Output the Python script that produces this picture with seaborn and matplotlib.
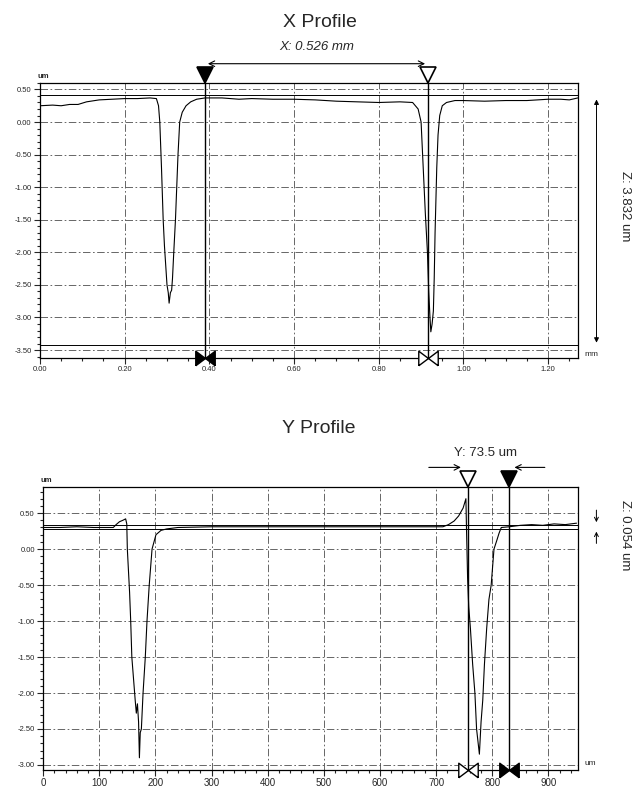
import numpy as np
import pandas as pd
import matplotlib.pyplot as plt
import seaborn as sns
from matplotlib.ticker import MultipleLocator, FormatStrFormatter

# X profile (position in mm, height in um)
x_pos = [0.00, 0.03, 0.05, 0.07, 0.09, 0.11, 0.14, 0.17, 0.20, 0.23, 0.26, 0.275,
         0.280, 0.283, 0.287, 0.291, 0.294, 0.297, 0.300, 0.303, 0.305, 0.308, 0.311,
         0.313, 0.316, 0.320, 0.323, 0.326, 0.330, 0.336, 0.345, 0.356, 0.37, 0.39,
         0.43, 0.47, 0.50, 0.55, 0.60, 0.65, 0.70, 0.75, 0.80, 0.85, 0.88, 0.893,
         0.900, 0.905, 0.910, 0.915, 0.918, 0.921, 0.923, 0.926, 0.929, 0.931, 0.933,
         0.935, 0.937, 0.940, 0.944, 0.950, 0.960, 0.98, 1.00, 1.05, 1.10, 1.15,
         1.20, 1.23, 1.25, 1.27]
x_height = [0.25, 0.26, 0.25, 0.27, 0.27, 0.31, 0.34, 0.35, 0.36, 0.36, 0.37, 0.36,
            0.25, 0.00, -0.70, -1.50, -1.90, -2.20, -2.50, -2.62, -2.78, -2.62, -2.58,
            -2.40, -2.00, -1.50, -1.00, -0.50, 0.00, 0.15, 0.25, 0.31, 0.35, 0.37,
            0.37, 0.35, 0.36, 0.35, 0.35, 0.34, 0.32, 0.31, 0.30, 0.31, 0.30, 0.20,
            0.00, -0.70, -1.40, -2.00, -2.60, -3.00, -3.22, -3.10, -2.90, -2.40, -1.70,
            -1.20, -0.70, -0.20, 0.10, 0.25, 0.30, 0.33, 0.33, 0.32, 0.33, 0.33,
            0.35, 0.35, 0.34, 0.37]

# Y profile (position in um, height in um)
y_pos = [0, 30, 60, 90, 110, 125, 130, 136, 142, 147, 149, 150, 152, 154, 156, 158,
         161, 164, 166, 168, 170, 171.5, 173, 175, 178, 182, 185, 189, 194, 201, 210,
         220, 240, 300, 400, 500, 600, 680, 712, 722, 732, 740, 748, 753, 754, 756,
         758, 761, 765, 769, 772, 777, 780, 783, 786, 790, 794, 798, 803, 808, 812,
         816, 830, 850, 870, 890, 910, 930, 950]
y_height = [0.30, 0.30, 0.31, 0.30, 0.30, 0.30, 0.34, 0.38, 0.40, 0.42, 0.35, 0.00,
            -0.30, -0.60, -1.00, -1.50, -1.80, -2.10, -2.28, -2.15, -2.40, -2.90, -2.55,
            -2.50, -2.00, -1.50, -1.00, -0.50, 0.00, 0.20, 0.26, 0.28, 0.30, 0.31,
            0.31, 0.31, 0.31, 0.31, 0.31, 0.34, 0.39, 0.46, 0.57, 0.70, 0.30, -0.40,
            -0.80, -1.10, -1.60, -2.00, -2.50, -2.85, -2.40, -2.10, -1.60, -1.10, -0.70,
            -0.50, 0.00, 0.12, 0.22, 0.30, 0.31, 0.33, 0.34, 0.33, 0.35, 0.34, 0.36]

# cursors
x_cursors = [0.390, 0.916]
x_ref_lines = [0.42, -3.43]
y_cursors = [757, 830.5]
y_ref_lines = [0.335, 0.281]

df_x = pd.DataFrame({'pos': x_pos, 'z': x_height})
df_y = pd.DataFrame({'pos': y_pos, 'z': y_height})

sns.set_style("ticks")
plt.rcParams['font.family'] = ['Liberation Sans', 'DejaVu Sans']

fig = plt.figure(figsize=(6.34, 7.9), dpi=100)
ax1 = fig.add_axes([0.063, 0.547, 0.849, 0.348])
ax2 = fig.add_axes([0.068, 0.0253, 0.844, 0.358])

grid_kw = dict(color='0.3', linestyle=(0, (9, 3, 2, 3)), linewidth=0.6)

# triangle markers with the tip at the cursor position
tri_right = [(-1, -0.75), (0, 0), (-1, 0.75), (-1, -0.75)]
tri_left = [(1, -0.75), (0, 0), (1, 0.75), (1, -0.75)]


def style_axes(ax, xlim, ylim, xmaj, xmin, ymaj, ymin, xfmt, xfs):
    ax.set_xlim(*xlim)
    ax.set_ylim(*ylim)
    ax.xaxis.set_major_locator(MultipleLocator(xmaj))
    ax.xaxis.set_minor_locator(MultipleLocator(xmin))
    ax.yaxis.set_major_locator(MultipleLocator(ymaj))
    ax.yaxis.set_minor_locator(MultipleLocator(ymin))
    ax.xaxis.set_major_formatter(FormatStrFormatter(xfmt))
    ax.yaxis.set_major_formatter(FormatStrFormatter('%.2f'))
    ax.grid(True, which='major', **grid_kw)
    ax.tick_params(which='major', direction='out', length=4, width=0.8, pad=2)
    ax.tick_params(which='minor', direction='out', length=2.5, width=0.8)
    ax.tick_params(axis='y', labelsize=5.5)
    ax.tick_params(axis='x', labelsize=xfs)
    for s in ax.spines.values():
        s.set_linewidth(0.9)
        s.set_color('black')
    ax.set_xlabel('')
    ax.set_ylabel('')


def bowtie(ax, x, filled):
    fc = 'black' if filled else 'white'
    for m in (tri_right, tri_left):
        ax.plot([x], [0.0], marker=m, markersize=14, mfc=fc, mec='black', mew=1.0,
                clip_on=False, zorder=6, transform=ax.get_xaxis_transform(), ls='none')


def top_marker(ax, x, filled):
    fc = 'black' if filled else 'white'
    ax.plot([x], [1.03], marker='v', markersize=11, mfc=fc, mec='black', mew=1.2,
            transform=ax.get_xaxis_transform(), clip_on=False, zorder=6)


# ---------------- X profile ----------------
sns.lineplot(data=df_x, x='pos', y='z', ax=ax1, color='black', linewidth=0.8, sort=False)
style_axes(ax1, (0, 1.271), (-3.62, 0.60), 0.2, 0.05, 0.5, 0.1, '%.2f', 5.5)
for r in x_ref_lines:
    ax1.axhline(r, color='black', linewidth=0.7)
for c in x_cursors:
    ax1.axvline(c, color='black', linewidth=1.0)

top_marker(ax1, x_cursors[0], True)
top_marker(ax1, x_cursors[1], False)
ax1.annotate('', xy=(x_cursors[0], 1.07), xytext=(x_cursors[1], 1.07),
             xycoords=ax1.get_xaxis_transform(),
             arrowprops=dict(arrowstyle='<->', color='black', lw=0.8), annotation_clip=False)
ax1.text(sum(x_cursors) / 2, 1.11, 'X: 0.526 mm', transform=ax1.get_xaxis_transform(),
         ha='center', va='bottom', fontsize=9.5, style='italic')
bowtie(ax1, x_cursors[0], True)
bowtie(ax1, x_cursors[1], False)
ax1.text(-0.005, 1.012, 'um', transform=ax1.transAxes, fontsize=5.5, ha='left', va='bottom',
         fontweight='bold')
ax1.text(1.012, 0.0, 'mm', transform=ax1.transAxes, fontsize=6, ha='left', va='bottom')
ax1.annotate('', xy=(1.034, 0.95), xytext=(1.034, 0.045), xycoords='axes fraction',
             arrowprops=dict(arrowstyle='<|-|>', color='black', lw=0.7,
                             mutation_scale=7), annotation_clip=False)
ax1.text(1.087, 0.55, 'Z: 3.832 um', transform=ax1.transAxes, rotation=-90,
         ha='center', va='center', fontsize=9.5)
fig.text(0.505, 0.972, 'X Profile', ha='center', va='center', fontsize=14)

# ---------------- Y profile ----------------
sns.lineplot(data=df_y, x='pos', y='z', ax=ax2, color='black', linewidth=0.8, sort=False)
style_axes(ax2, (0, 953), (-3.07, 0.86), 100, 20, 0.5, 0.1, '%d', 7)
for r in y_ref_lines:
    ax2.axhline(r, color='black', linewidth=0.7)
for c in y_cursors:
    ax2.axvline(c, color='black', linewidth=1.0)

top_marker(ax2, y_cursors[0], False)
top_marker(ax2, y_cursors[1], True)
ax2.annotate('', xy=(y_cursors[0] - 8, 1.07), xytext=(y_cursors[0] - 75, 1.07),
             xycoords=ax2.get_xaxis_transform(),
             arrowprops=dict(arrowstyle='->', color='black', lw=0.8), annotation_clip=False)
ax2.annotate('', xy=(y_cursors[1] + 4, 1.07), xytext=(y_cursors[1] + 68, 1.07),
             xycoords=ax2.get_xaxis_transform(),
             arrowprops=dict(arrowstyle='->', color='black', lw=0.8), annotation_clip=False)
ax2.text(sum(y_cursors) / 2 - 5, 1.10, 'Y: 73.5 um', transform=ax2.get_xaxis_transform(),
         ha='center', va='bottom', fontsize=9.5)
bowtie(ax2, y_cursors[0], False)
bowtie(ax2, y_cursors[1], True)
ax2.text(-0.005, 1.012, 'um', transform=ax2.transAxes, fontsize=5.5, ha='left', va='bottom',
         fontweight='bold')
ax2.text(1.012, 0.01, 'um', transform=ax2.transAxes, fontsize=6, ha='left', va='bottom')
ax2.annotate('', xy=(1.034, y_ref_lines[0]), xytext=(1.034, 0.58),
             xycoords=(ax2.transAxes, ax2.transData),
             arrowprops=dict(arrowstyle='->', color='black', lw=0.7, mutation_scale=7),
             annotation_clip=False)
ax2.annotate('', xy=(1.034, y_ref_lines[1]), xytext=(1.034, 0.04),
             xycoords=(ax2.transAxes, ax2.transData),
             arrowprops=dict(arrowstyle='->', color='black', lw=0.7, mutation_scale=7),
             annotation_clip=False)
ax2.text(1.087, 0.83, 'Z: 0.054 um', transform=ax2.transAxes, rotation=-90,
         ha='center', va='center', fontsize=9.5)
fig.text(0.502, 0.458, 'Y Profile', ha='center', va='center', fontsize=14)

fig.savefig('out.png', dpi=100, facecolor='white')
